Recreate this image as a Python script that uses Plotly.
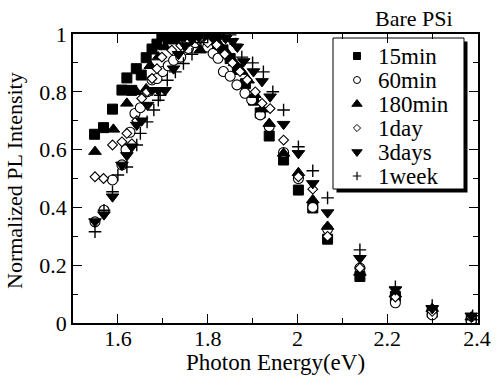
import plotly.graph_objects as go

# ---------------- data ----------------
labels = ["15min", "60min", "180min", "1day", "3days", "1week"]

E15 = [1.548,1.568,1.588,1.609,1.620,1.631,1.641,1.652,1.663,1.676,1.687,1.698,1.712,1.727,1.742,1.757,1.772,1.787,1.802,1.818,1.834,1.850,1.866,1.884,1.902,1.917,1.937,1.969,2.002,2.034,2.067,2.139,2.218,2.300,2.387]
I15 = [0.653,0.676,0.740,0.806,0.848,0.805,0.880,0.858,0.918,0.948,0.965,0.993,0.988,0.985,0.992,0.997,1.000,0.994,0.982,0.966,0.945,0.915,0.878,0.828,0.771,0.727,0.647,0.564,0.460,0.398,0.290,0.161,0.092,0.037,0.012]

E60 = [1.549,1.569,1.588,1.609,1.618,1.627,1.638,1.650,1.665,1.676,1.687,1.700,1.712,1.724,1.740,1.757,1.772,1.787,1.800,1.812,1.823,1.835,1.850,1.865,1.883,1.898,1.917,1.937,1.969,2.002,2.034,2.067,2.139,2.218,2.300,2.387]
I60 = [0.350,0.390,0.495,0.547,0.600,0.660,0.725,0.745,0.800,0.841,0.846,0.870,0.890,0.909,0.920,0.950,0.970,0.975,0.955,0.933,0.916,0.870,0.854,0.824,0.795,0.772,0.720,0.680,0.590,0.500,0.400,0.325,0.190,0.070,0.028,0.008]

E180 = [1.549,1.590,1.620,1.641,1.663,1.672,1.690,1.705,1.720,1.735,1.750,1.765,1.783,1.800,1.815,1.830,1.845,1.860,1.876,1.890,1.905,1.921,1.937,1.969,2.002,2.034,2.067,2.139,2.218,2.300,2.387]
I180 = [0.593,0.670,0.760,0.800,0.810,0.890,0.920,0.955,0.975,0.990,0.995,1.000,0.944,0.985,0.975,0.955,0.930,0.900,0.870,0.840,0.790,0.740,0.690,0.587,0.520,0.426,0.334,0.175,0.100,0.050,0.020]

E1d = [1.549,1.568,1.588,1.609,1.620,1.631,1.642,1.653,1.665,1.676,1.687,1.698,1.720,1.740,1.760,1.780,1.800,1.820,1.838,1.855,1.872,1.888,1.906,1.921,1.939,1.969,2.002,2.034,2.067,2.139,2.218,2.300,2.387]
I1d = [0.506,0.500,0.616,0.627,0.656,0.620,0.700,0.777,0.800,0.846,0.880,0.920,0.944,0.960,0.975,0.980,0.970,0.962,0.930,0.900,0.870,0.841,0.800,0.760,0.742,0.633,0.506,0.463,0.300,0.190,0.090,0.040,0.020]

E3d = [1.549,1.569,1.588,1.609,1.620,1.631,1.642,1.653,1.666,1.676,1.690,1.705,1.724,1.735,1.750,1.765,1.780,1.795,1.810,1.825,1.840,1.855,1.866,1.880,1.902,1.921,1.939,1.969,2.002,2.034,2.067,2.139,2.218,2.300,2.387]
I3d = [0.351,0.375,0.437,0.547,0.580,0.610,0.685,0.700,0.754,0.805,0.805,0.805,0.880,0.930,0.960,0.980,0.990,1.000,0.995,0.990,0.985,0.975,0.955,0.905,0.870,0.836,0.783,0.688,0.587,0.483,0.382,0.224,0.115,0.050,0.025]

E1w = [1.549,1.569,1.588,1.600,1.620,1.642,1.650,1.665,1.680,1.690,1.694,1.710,1.728,1.746,1.765,1.785,1.800,1.815,1.835,1.850,1.862,1.876,1.900,1.924,1.945,1.969,2.002,2.034,2.067,2.139,2.218,2.300,2.390]
I1w = [0.316,0.390,0.454,0.512,0.540,0.616,0.656,0.696,0.737,0.771,0.788,0.840,0.869,0.898,0.930,0.970,0.990,1.000,0.995,0.997,0.965,0.920,0.900,0.869,0.800,0.737,0.610,0.527,0.433,0.253,0.125,0.060,0.025]

xs = [E15, E60, E180, E1d, E3d, E1w]
ys = [I15, I60, I180, I1d, I3d, I1w]

x_title = "Photon Energy(eV)"
y_title = "Normalized PL Intensity"
panel_title = "Bare PSi"

# ---------------- styles ----------------
FONT = "Liberation Serif"
styles = [
    dict(symbol="square", size=10, color="black", line=dict(color="black", width=1)),
    dict(symbol="circle", size=10, color="white", line=dict(color="black", width=1.1)),
    dict(symbol="triangle-up", size=11, color="black", line=dict(color="black", width=1)),
    dict(symbol="diamond", size=7.5, color="white", line=dict(color="black", width=1.1)),
    dict(symbol="triangle-down", size=11, color="black", line=dict(color="black", width=1)),
    dict(symbol="cross-thin", size=9, color="black", line=dict(color="black", width=1.4)),
]
leg_styles = [
    dict(symbol="square", size=7, color="black", line=dict(color="black", width=1)),
    dict(symbol="circle", size=7, color="white", line=dict(color="black", width=1)),
    dict(symbol="triangle-up", size=9, color="black", line=dict(color="black", width=1)),
    dict(symbol="diamond", size=5.5, color="white", line=dict(color="black", width=1)),
    dict(symbol="triangle-down", size=9, color="black", line=dict(color="black", width=1)),
    dict(symbol="cross-thin", size=6, color="black", line=dict(color="black", width=1.2)),
]

W, H = 498, 378
ML, MR, MT, MB = 73, 20, 34, 55
PW, PH = W - ML - MR, H - MT - MB

def px2paper(px, py):
    return (px - ML) / PW, (H - MB - py) / PH

fig = go.Figure()
for x, y, st, name in zip(xs, ys, styles, labels):
    fig.add_trace(go.Scatter(x=x, y=y, mode="markers", name=name, marker=st,
                             showlegend=False, hoverinfo="x+y+name"))
# empty trace so the label-only x axis (x3) is drawn
fig.add_trace(go.Scatter(x=[], y=[], xaxis="x3", yaxis="y", showlegend=False, hoverinfo="skip"))

# ---------------- hand-made legend (pixel overlay axes) ----------------
leg_x_sym, leg_x_txt = 357, 376
leg_y0, leg_dy = 56, 24
for i, (name, st) in enumerate(zip(labels, leg_styles)):
    fig.add_trace(go.Scatter(x=[leg_x_sym], y=[leg_y0 + i * leg_dy], mode="markers",
                             marker=st, xaxis="x2", yaxis="y2", showlegend=False,
                             hoverinfo="skip"))
    fig.add_annotation(x=leg_x_txt, y=leg_y0 + i * leg_dy, xref="x2", yref="y2",
                       text=name, showarrow=False, xanchor="left", yanchor="middle",
                       font=dict(family=FONT, size=23, color="black"))

bx0, by0, bx1, by1 = 333, 38, 464, 189
sx0, sy0 = px2paper(bx0 + 3.5, by0 + 3.5)
sx1, sy1 = px2paper(bx1 + 3.5, by1 + 3.5)
fig.add_shape(type="rect", xref="paper", yref="paper", x0=sx0, y0=sy0, x1=sx1, y1=sy1,
              fillcolor="black", line=dict(width=0), layer="below")
qx0, qy0 = px2paper(bx0, by0)
qx1, qy1 = px2paper(bx1, by1)
fig.add_shape(type="rect", xref="paper", yref="paper", x0=qx0, y0=qy0, x1=qx1, y1=qy1,
              fillcolor="white", line=dict(color="black", width=1), layer="below")

# titles as text annotations placed in pixel space
tx, ty = px2paper(414, 18)
fig.add_annotation(x=tx, y=ty, xref="paper", yref="paper", text=panel_title,
                   showarrow=False, xanchor="center", yanchor="middle",
                   font=dict(family=FONT, size=22, color="black"))
ax, ay = px2paper(275, 362)
fig.add_annotation(x=ax, y=ay, xref="paper", yref="paper", text=x_title,
                   showarrow=False, xanchor="center", yanchor="middle",
                   font=dict(family=FONT, size=23, color="black"))
bx, byy = px2paper(14, 181)
fig.add_annotation(x=bx, y=byy, xref="paper", yref="paper", text=y_title, textangle=-90,
                   showarrow=False, xanchor="center", yanchor="middle",
                   font=dict(family=FONT, size=22, color="black"))

axis_common = dict(showgrid=False, zeroline=False, showline=True, linecolor="black",
                   linewidth=1.5, mirror="ticks", ticks="inside", ticklen=9, tickwidth=1.2,
                   tickcolor="black", automargin=False,
                   tickfont=dict(family=FONT, size=22, color="black"),
                   minor=dict(ticks="inside", ticklen=5, tickwidth=1.2, tickcolor="black"))

XR = [1.5, 2.402]
fig.update_layout(
    width=W, height=H,
    margin=dict(l=ML, r=MR, t=MT, b=MB, autoexpand=False),
    paper_bgcolor="white", plot_bgcolor="rgba(0,0,0,0)",
    font=dict(family=FONT, color="black"),
    xaxis=dict(range=XR, dtick=0.2, tick0=0, minor_dtick=0.1, showticklabels=False,
               **axis_common),
    # label-only copy of the x axis
    xaxis3=dict(overlaying="x", anchor="free", position=0, range=XR, dtick=0.2, tick0=0,
                showline=False, showgrid=False, zeroline=False, ticks="", automargin=False,
                tickfont=dict(family=FONT, size=22, color="black")),
    yaxis=dict(range=[0, 1.0], dtick=0.2, tick0=0, minor_dtick=0.1, **axis_common),
    xaxis2=dict(overlaying="x", anchor="y2", range=[ML, W - MR], visible=False, fixedrange=True),
    yaxis2=dict(overlaying="y", anchor="x2", range=[H - MB, MT], visible=False, fixedrange=True),
    showlegend=False,
)

fig.write_html("out.html")
